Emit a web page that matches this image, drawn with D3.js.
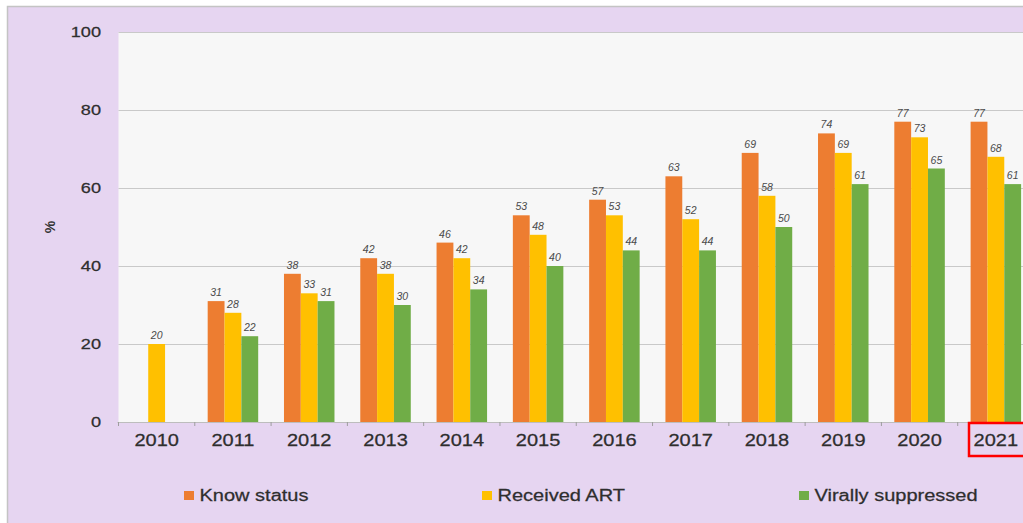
<!DOCTYPE html>
<html>
<head>
<meta charset="utf-8">
<script src="https://cdn.jsdelivr.net/npm/d3@7"></script>
<style>
	html, body { margin: 0; padding: 0; background: #ffffff; overflow: hidden; }
	svg { display: block; font-family: "Liberation Sans", Arial, sans-serif; }
</style>
</head>
<body>
<div id="chart"></div>
<script>
// values
const years = ["2010", "2011", "2012", "2013", "2014", "2015", "2016", "2017", "2018", "2019", "2020", "2021"];
const knowStatus = [null, 31, 38, 42, 46, 53, 57, 63, 69, 74, 77, 77];
const receivedArt = [20, 28, 33, 38, 42, 48, 53, 52, 58, 69, 73, 68];
const virallySuppressed = [null, 22, 31, 30, 34, 40, 44, 44, 50, 61, 65, 61];
const seriesNames = ["Know status", "Received ART", "Virally suppressed"];
const yTicks = [0, 20, 40, 60, 80, 100];

const colors = ["#ED7D31", "#FFC000", "#70AD47"];
const seriesValues = [knowStatus, receivedArt, virallySuppressed];

const width = 1023;
const height = 523;
const stretch = 1.25; // the screenshot is wider than tall

const svg = d3.select("#chart")
	.append("svg")
	.attr("width", width)
	.attr("height", height);

// page frame
svg.append("rect").attr("x", 0).attr("y", 0).attr("width", width).attr("height", height).attr("fill", "#ffffff");
svg.append("rect")
	.attr("x", 7.5).attr("y", 6.5)
	.attr("width", width).attr("height", height)
	.attr("fill", "#E6D5F1")
	.attr("stroke", "#c4c4c4")
	.attr("stroke-width", 1.5);

const plotLeft = 118.5;
const plotRight = 1034;
const plotTop = 32;
const plotBottom = 422;

const x = d3.scaleBand()
	.domain(years)
	.range([plotLeft, plotRight])
	.paddingInner(0.338)
	.paddingOuter(0.169);

const xSub = d3.scaleBand()
	.domain(seriesNames)
	.range([0, x.bandwidth()]);

const y = d3.scaleLinear()
	.domain([0, 100])
	.range([plotBottom, plotTop]);

// plot background
svg.append("rect")
	.attr("x", plotLeft)
	.attr("y", plotTop)
	.attr("width", plotRight - plotLeft)
	.attr("height", plotBottom - plotTop)
	.attr("fill", "#F7F7F7");

// grid lines
svg.append("g")
	.selectAll("line")
	.data(yTicks.filter(d => d > 0))
	.enter()
	.append("line")
	.attr("x1", plotLeft)
	.attr("x2", plotRight)
	.attr("y1", d => Math.round(y(d)) + 0.5)
	.attr("y2", d => Math.round(y(d)) + 0.5)
	.attr("stroke", "#C9C9C9")
	.attr("stroke-width", 1.2);

// stretched text helper
function stretchedText(g, tx, ty, text, anchor) {
	return g.append("text")
		.attr("transform", `translate(${tx},${ty}) scale(${stretch},1)`)
		.attr("text-anchor", anchor)
		.text(text);
}

// y axis labels
const yAxisG = svg.append("g")
	.attr("font-size", 14.5)
	.attr("fill", "#2e2e2e")
	.attr("stroke", "#2e2e2e")
	.attr("stroke-width", 0.25);
yTicks.forEach(t => {
	stretchedText(yAxisG, 101, y(t) + 5, t, "end");
});

// % title
svg.append("text")
	.attr("transform", "translate(55,227) rotate(-90)")
	.attr("text-anchor", "middle")
	.attr("font-size", 14)
	.attr("font-weight", "bold")
	.attr("fill", "#333333")
	.text("%");

// bars
const groups = svg.append("g")
	.selectAll("g")
	.data(years)
	.enter()
	.append("g")
	.attr("transform", d => `translate(${x(d)},0)`);

groups.selectAll("rect")
	.data((d, i) => seriesNames.map((s, k) => ({ series: s, k: k, value: seriesValues[k][i] })).filter(e => e.value !== null))
	.enter()
	.append("rect")
	.attr("x", d => xSub(d.series))
	.attr("y", d => y(d.value))
	.attr("width", xSub.bandwidth())
	.attr("height", d => y(0) - y(d.value))
	.attr("fill", d => colors[d.k]);

// data labels
groups.selectAll("text")
	.data((d, i) => seriesNames.map((s, k) => ({ series: s, k: k, value: seriesValues[k][i] })).filter(e => e.value !== null))
	.enter()
	.append("text")
	.attr("x", d => xSub(d.series) + xSub.bandwidth() / 2)
	.attr("y", d => y(d.value) - 5)
	.attr("text-anchor", "middle")
	.attr("font-size", 10.5)
	.attr("font-style", "italic")
	.attr("fill", "#4a4a4a")
	.text(d => d.value);

// x axis line and ticks
svg.append("line")
	.attr("x1", plotLeft - 1)
	.attr("x2", plotRight)
	.attr("y1", plotBottom + 0.5)
	.attr("y2", plotBottom + 0.5)
	.attr("stroke", "#BDBDBD")
	.attr("stroke-width", 1.2);

const boundaries = years.map(d => x(d) - x.step() * 0.169);
svg.append("g")
	.selectAll("line")
	.data(boundaries)
	.enter()
	.append("line")
	.attr("x1", d => d)
	.attr("x2", d => d)
	.attr("y1", plotBottom)
	.attr("y2", plotBottom + 4)
	.attr("stroke", "#9E9E9E")
	.attr("stroke-width", 1);

// year labels
const xAxisG = svg.append("g")
	.attr("font-size", 16)
	.attr("fill", "#2e2e2e")
	.attr("stroke", "#2e2e2e")
	.attr("stroke-width", 0.25);
years.forEach(yr => {
	stretchedText(xAxisG, x(yr) + x.bandwidth() / 2, 446, yr, "middle");
});

// red highlight box around 2021
svg.append("rect")
	.attr("x", 969)
	.attr("y", 423)
	.attr("width", 80)
	.attr("height", 33)
	.attr("fill", "none")
	.attr("stroke", "#FF0000")
	.attr("stroke-width", 2.5);

// legend
const legendX = [184, 482, 799];
const legend = svg.append("g")
	.attr("font-size", 16)
	.attr("fill", "#2e2e2e")
	.attr("stroke", "#2e2e2e")
	.attr("stroke-width", 0.25);
seriesNames.forEach((s, k) => {
	legend.append("rect")
		.attr("x", legendX[k])
		.attr("y", 491)
		.attr("width", 10)
		.attr("height", 9)
		.attr("fill", colors[k])
		.attr("stroke", "none");
	stretchedText(legend, legendX[k] + 15.5, 500.5, s, "start");
});
</script>
</body>
</html>
